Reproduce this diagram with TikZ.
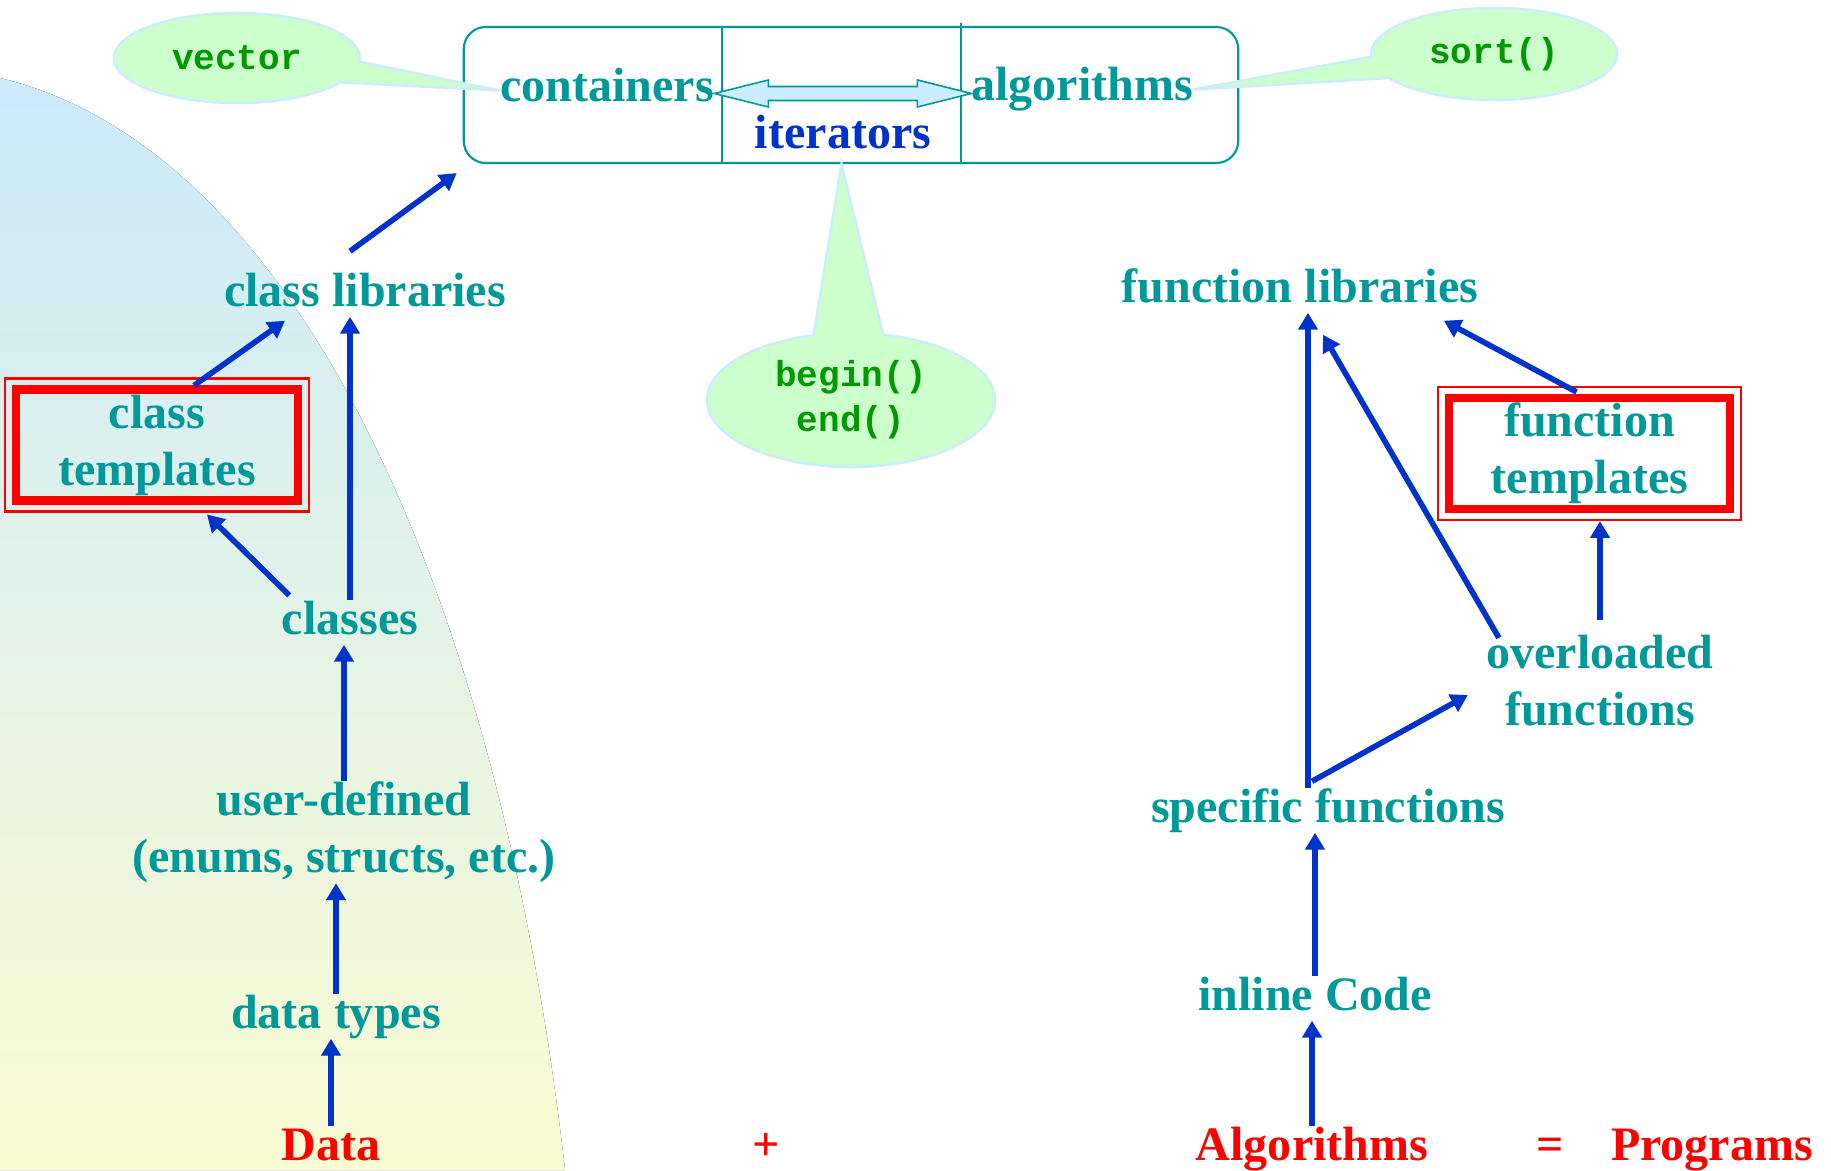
\documentclass[tikz,border=0pt]{standalone}
\usepackage{fontspec}
\setmainfont{Liberation Serif}
\setmonofont{Liberation Mono}
\usepackage{tikz}
\usetikzlibrary{arrows.meta,calc,shapes.callouts}

\definecolor{stlteal}{RGB}{0,153,153}
\definecolor{arrblue}{RGB}{0,51,204}
\definecolor{codegreen}{RGB}{0,153,0}
\definecolor{bubblefill}{RGB}{204,255,204}
\definecolor{bubbleline}{RGB}{204,236,255}
\definecolor{arrfill}{RGB}{204,236,255}
\definecolor{bgtop}{RGB}{204,234,251}
\definecolor{bgbot}{RGB}{250,252,210}

\newcommand{\lblfont}{\fontsize{13.66}{16.2}\selectfont\bfseries}
\newcommand{\codefont}{\fontsize{10.24}{12.8}\selectfont\ttfamily\bfseries}

\tikzset{
lbl/.style  = {text=stlteal, font=\lblfont, inner sep=0pt,
               text height=0.33cm, text depth=0.1cm},
lbltwo/.style = {text=stlteal, font=\lblfont, inner sep=0pt, align=center},
res/.style  = {lbl, text=red},
tmplbox/.style = {draw=red, line width=1.7pt, minimum width=2.83cm,
               minimum height=1.13cm, inner sep=0pt, align=center,
               text=stlteal, font=\lblfont},
thinred/.style = {draw=red, line width=0.6pt},
bubble/.style = {ellipse callout, fill=bubblefill, draw=bubbleline,
               line width=0.7pt, text=codegreen, font=\codefont,
               align=center, inner sep=0pt, callout pointer arc=28},
conn/.style = {->, draw=arrblue, line width=1.6pt},
dblarr/.style = {fill=arrfill, draw=stlteal, line width=0.45pt}
}

\begin{document}
\begin{tikzpicture}[x=0.01cm, y=-0.01cm,
    >={Triangle[length=4.8pt,width=5.4pt]}]
    \useasboundingbox (0,0) rectangle (1831,1170);

    % background
    \fill[top color=bgtop, bottom color=bgbot] (0,78)
      .. controls (300,150) and (500,600) .. (565,1170) -- (0,1170) -- cycle;

    % STL box
    \node [draw=stlteal, line width=0.6pt, rounded corners=0.22cm,
      minimum width=7.74cm, minimum height=1.36cm, name=stl] (stl) at (851,95) {};
    \node [minimum width=2.37cm, minimum height=1.36cm, name=itcell] (itcell) at (841.5,95) {};
    \draw [stlteal, line width=0.6pt] (itcell.north west) -- (itcell.south west);
    \draw [stlteal, line width=0.6pt] ([yshift=0.03cm]itcell.north east) -- (itcell.south east);

    \node [lbl, anchor=base, name=containers] (containers) at (607,102) {containers};
    \node [lbl, anchor=base, name=algorithms] (algorithms) at (1082,101) {algorithms};
    \node [lbl, anchor=base, text=arrblue, name=iterators] (iterators) at (843,149) {iterators};

    \draw [dblarr] ($(containers.east)+(0,3)$) -- ++(54,-13.5) -- ++(0,6.5)
      -- ++(149,0) -- ++(0,-6.5) -- ++(54,13.5) -- ++(-54,13.5)
      -- ++(0,-6.5) -- ++(-149,0) -- ++(0,6.5) -- cycle;

    \node [bubble, minimum width=2.46cm, minimum height=0.9cm,
      callout absolute pointer={(containers.west)}] (vec) at (237,58) {vector};
    \node [bubble, minimum width=2.46cm, minimum height=0.92cm,
      callout absolute pointer={(algorithms.east)}] (sortc) at (1494,54) {sort()};
    \node [bubble, minimum width=2.88cm, minimum height=1.34cm,
      callout absolute pointer={(itcell.south)}] (iterfn) at (851,400) {begin()\\end()};

    % data side
    \node [lbl, anchor=base, name=classlib] (classlib) at (365,306) {class libraries};
    \node [tmplbox, name=ctmpl] (ctmpl) at (157,445) {class\\templates};
    \node [lbl, anchor=base, name=classes] (classes) at (350,634) {classes};
    \node [lbltwo, name=userdef] (userdef) at (344,832) {user-defined\\(enums, structs, etc.)};
    \node [lbl, anchor=base, name=datatypes] (datatypes) at (336,1028) {data types};
    \node [res, anchor=base, name=data] (data) at (331,1160) {Data};
    \node [res, anchor=base, name=plus] (plus) at (766,1160) {+};

    % algorithm side
    \node [lbl, anchor=base, name=funclib] (funclib) at (1300,302) {function libraries};
    \node [tmplbox, name=ftmpl] (ftmpl) at (1589.5,453.5) {function\\templates};
    \node [lbltwo, name=overloaded] (overloaded) at (1600,681) {overloaded\\functions};
    \node [lbl, anchor=base, name=specfunc] (specfunc) at (1328,822) {specific functions};
    \node [lbl, anchor=base, name=inline] (inline) at (1315,1010) {inline Code};
    \node [res, anchor=base, name=algo] (algo) at (1312,1160) {Algorithms};
    \node [res, anchor=base, name=eq] (eq) at (1550,1160) {=};
    \node [res, anchor=base, name=prog] (prog) at (1712,1160) {Programs};

    \foreach \bx in {ctmpl,ftmpl} {
      \draw [thinred] ([shift={(-7,7)}]\bx.south west) rectangle ([shift={(7,-7)}]\bx.north east);
      \draw [thinred] ([shift={(7,-7)}]\bx.south west) rectangle ([shift={(-7,7)}]\bx.north east);
    }

    \draw [conn] ($(classlib.north)+(-15,-21)$) -- ($(stl.south west)+(-6,9)$);
    \draw [conn] ($(ctmpl.north)+(37,0)$) -- ($(classlib.south)+(-80,4)$);
    \draw [conn] ($(classes.north west)+(8,-5)$) -- ($(ctmpl.south)+(50,10)$);
    \draw [conn] (classes.north) -- (classes.north |- classlib.south);
    \draw [conn] (userdef.north) -- (userdef.north |- classes.south);
    \draw [conn] (datatypes.north) -- (datatypes.north |- userdef.south);
    \draw [conn] (data.north) -- (data.north |- datatypes.south);

    \coordinate (sfup) at ([xshift=-0.2cm]specfunc.north);
    \draw [conn] (inline.north) -- (inline.north |- specfunc.south);
    \draw [conn] (algo.north) -- (algo.north |- inline.south);
    \draw [conn] (sfup) -- (sfup |- funclib.south);
    \draw [conn] ($(specfunc.north)+(-16,-7)$) -- ($(overloaded.west)+(-18,14)$);
    \draw [conn] ($(overloaded.north west)+(13,3)$) -- ($(funclib.south)+(23,22)$);
    \draw [conn] ($(ftmpl.north)+(-13,-2)$) -- ($(funclib.south east)+(-35,8)$);
    \draw [conn, shorten >=0.08cm] ([yshift=0.15cm]overloaded.north) -- (overloaded.north |- ftmpl.south);

\end{tikzpicture}
\end{document}
